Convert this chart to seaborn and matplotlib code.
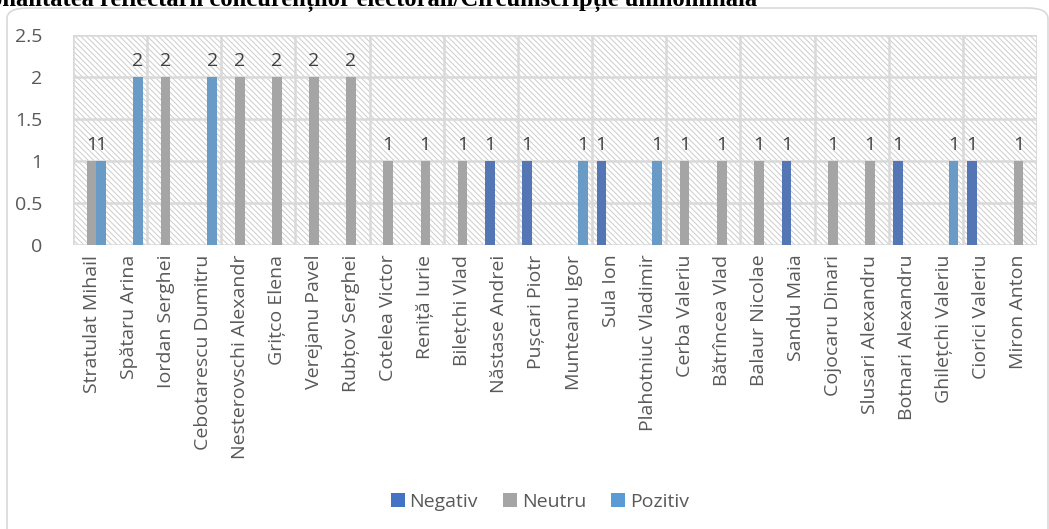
import matplotlib
matplotlib.use("Agg")
import matplotlib.pyplot as plt
from matplotlib.patches import FancyBboxPatch, Patch
import seaborn as sns
import pandas as pd
import numpy as np

candidates = [
    "Stratulat Mihail", "Spătaru Arina", "Iordan Serghei", "Cebotarescu Dumitru",
    "Nesterovschi Alexandr", "Grițco Elena", "Verejanu Pavel", "Rubțov Serghei",
    "Cotelea Victor", "Reniță Iurie", "Bilețchi Vlad", "Năstase Andrei",
    "Pușcari Piotr", "Munteanu Igor", "Sula Ion", "Plahotniuc Vladimir",
    "Cerba Valeriu", "Bătrîncea Vlad", "Balaur Nicolae", "Sandu Maia",
    "Cojocaru Dinari", "Slusari Alexandru", "Botnari Alexandru", "Ghilețchi Valeriu",
    "Ciorici Valeriu", "Miron Anton",
]
negativ = [0, 0, 0, 0, 0, 0, 0, 0, 0, 0, 0, 1, 1, 0, 1, 0, 0, 0, 0, 1, 0, 0, 1, 0, 1, 0]
neutru  = [1, 0, 2, 0, 2, 2, 2, 2, 1, 1, 1, 0, 0, 0, 0, 0, 1, 1, 1, 0, 1, 1, 0, 0, 0, 1]
pozitiv = [1, 2, 0, 2, 0, 0, 0, 0, 0, 0, 0, 0, 0, 1, 0, 1, 0, 0, 0, 0, 0, 0, 0, 1, 0, 0]
series_names = ["Negativ", "Neutru", "Pozitiv"]
colors = ["#4472C4", "#A5A5A5", "#5B9BD5"]
yticks = [0, 0.5, 1, 1.5, 2, 2.5]
title = "Tonalitatea reflectării concurenților electorali/Circumscripție uninominală"

rows = []
for name, vals in zip(series_names, [negativ, neutru, pozitiv]):
    for c, v in zip(candidates, vals):
        rows.append({"Candidat": c, "Tonalitate": name, "Valoare": v})
df = pd.DataFrame(rows)

sns.set_theme(style="white")
plt.rcParams["font.family"] = ["Open Sans", "DejaVu Sans"]
plt.rcParams["hatch.linewidth"] = 0.7

FS = 14
W, H = 1049, 529
fig = plt.figure(figsize=(W / 100, H / 100), dpi=100)

# rounded chart frame
frame = FancyBboxPatch((7 / W, -20 / H), (1041) / W, (H - 8 + 20) / H,
                       boxstyle="round,pad=0,rounding_size=0.02",
                       transform=fig.transFigure, facecolor="white",
                       edgecolor="#D9D9D9", linewidth=1.2, zorder=0)
fig.patches.append(frame)

ax = fig.add_axes([73 / W, 1 - 245 / H, (1037 - 73) / W, (245 - 35) / H])
ax.set_zorder(2)

# hatched background
ax.patch.set_facecolor("white")
ax.patch.set_hatch("\\\\\\\\\\\\")
ax.patch.set_edgecolor("#CCCCCC")
ax.patch.set_linewidth(0)

sns.barplot(data=df, x="Candidat", y="Valoare", hue="Tonalitate",
            order=candidates, hue_order=series_names, palette=colors,
            width=0.76, gap=0, linewidth=0, errorbar=None, ax=ax,
            legend=False, zorder=3)

ax.set_ylim(0, 2.5)
ax.set_xlim(-0.5, len(candidates) - 0.5)
ax.set_yticks(yticks)
ax.set_yticklabels([f"{t:g}" for t in yticks], color="#595959", fontsize=FS)
ax.tick_params(axis="y", length=0, pad=22)
ax.tick_params(axis="x", length=0, pad=7)
ax.set_xticks(range(len(candidates)))
ax.set_xticklabels(candidates, rotation=90, color="#595959", fontsize=FS)
ax.set_xlabel("")
ax.set_ylabel("")

# gridlines
for t in yticks:
    ax.axhline(t, color="#D9D9D9", linewidth=1.8, zorder=1)
for b in np.arange(-0.5, len(candidates), 2):
    ax.axvline(b, color="#D9D9D9", linewidth=1.8, zorder=1)
ax.axvline(len(candidates) - 0.5, color="#D9D9D9", linewidth=1.8, zorder=1)
for s in ax.spines.values():
    s.set_visible(False)

# data labels (non-zero only)
for cont in ax.containers:
    labels = [f"{int(b.get_height())}" if b.get_height() > 0 else "" for b in cont]
    ax.bar_label(cont, labels=labels, padding=5, color="#404040", fontsize=FS)

# legend
handles = [Patch(facecolor=c, edgecolor="none", label=n) for c, n in zip(colors, series_names)]
fig.legend(handles=handles, loc="center", bbox_to_anchor=(540 / W, 1 - 502 / H),
           ncol=3, frameon=False, fontsize=FS, handlelength=0.7, handleheight=0.7,
           handletextpad=0.25, columnspacing=1.3, labelcolor="#595959")

fig.text(757 / W, 1 - 6 / H, title, ha="right", va="baseline",
         fontsize=17.7, fontweight="bold", family="Liberation Serif", color="black")

fig.savefig("out.png", dpi=100)
